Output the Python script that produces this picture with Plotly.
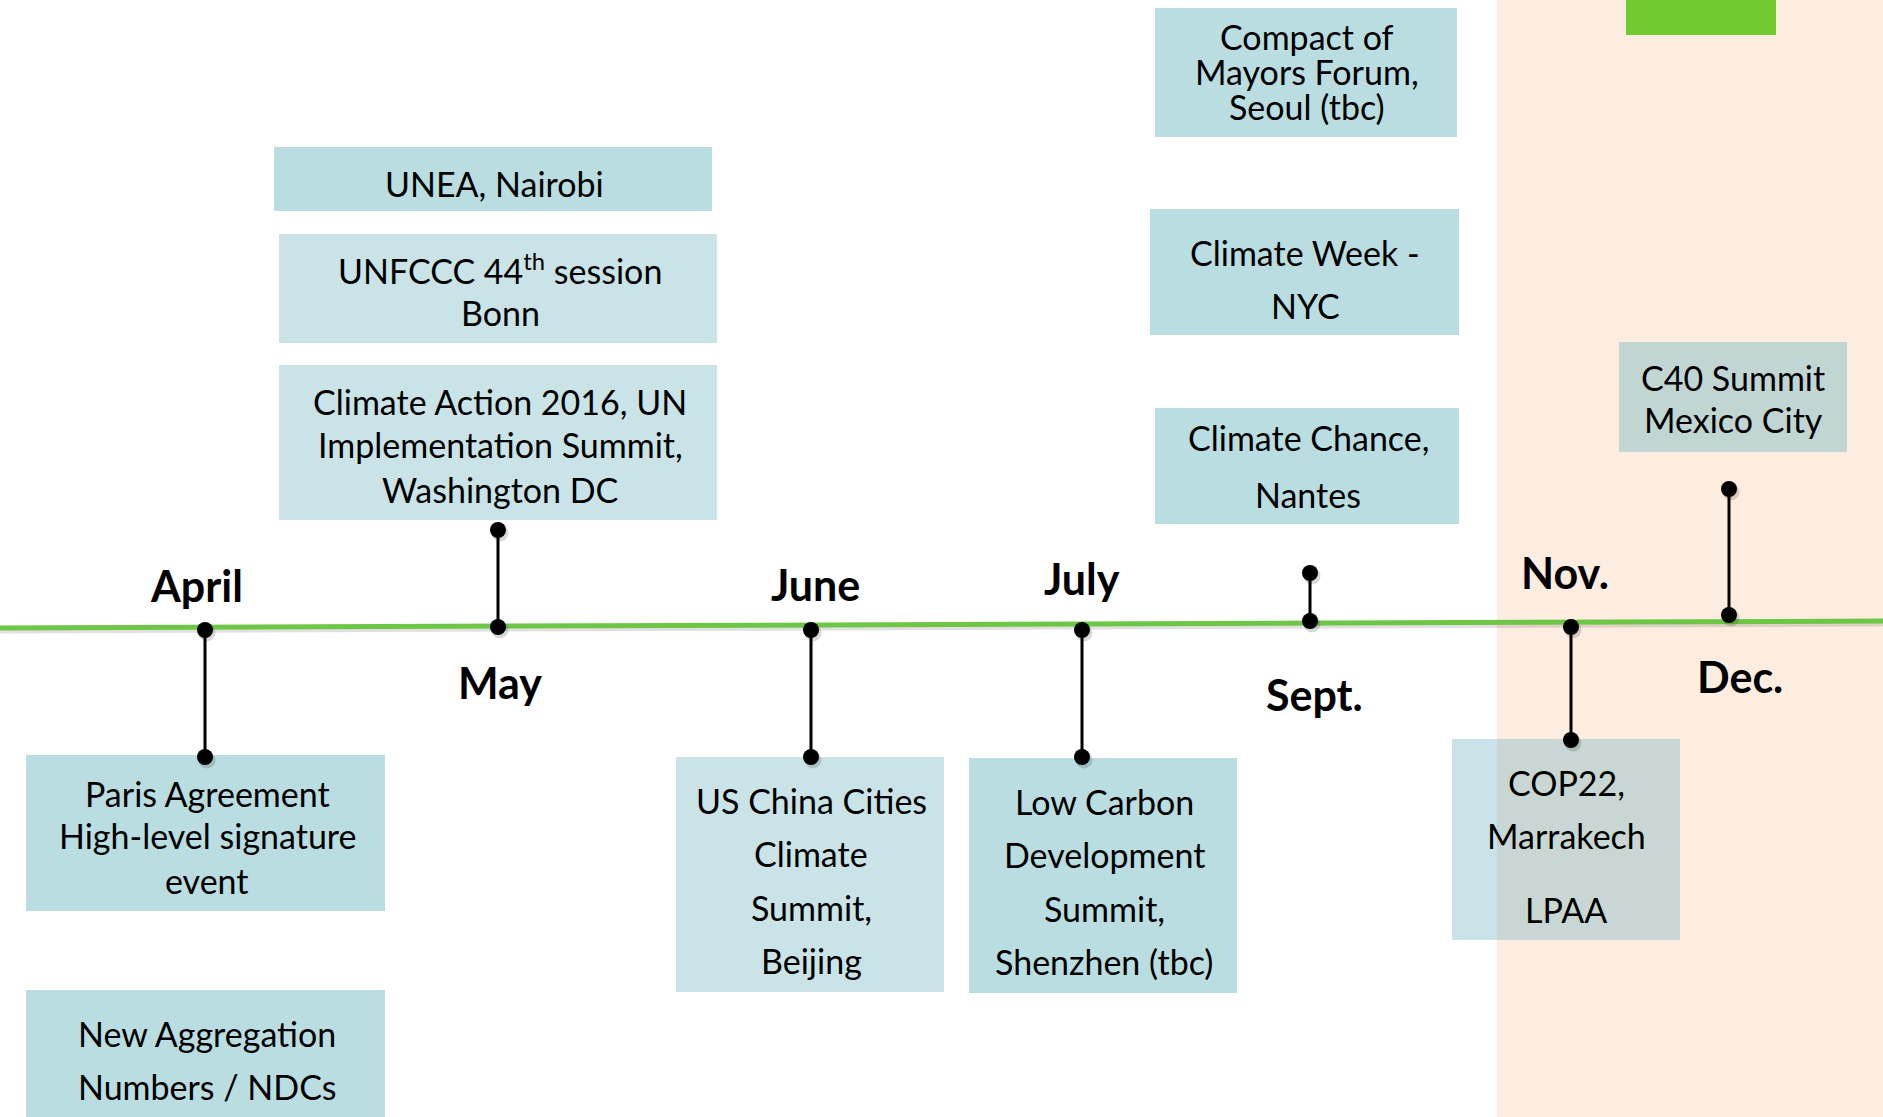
import plotly.graph_objects as go

# ---------------- data ----------------
months = ["April", "May", "June", "July", "Sept.", "Nov.", "Dec."]
month_label_x = [196, 500, 815, 1082, 1314, 1565, 1740]
month_label_y = [585, 682, 584, 578, 694, 572, 676]

# connection point on the timeline and the end of the stem for each month
stem_x = [205, 498, 811, 1082, 1310, 1571, 1729]
stem_axis_y = [630, 627, 630, 630, 621, 627, 615]
stem_end_y = [757, 530, 757, 757, 573, 740, 489]

timeline_x = [0, 1883]
timeline_y = [628, 621]

event_texts = [
    ["UNEA, Nairobi"],
    ["UNFCCC 44<sup>th</sup> session", "Bonn"],
    ["Climate Action 2016, UN", "Implementation Summit,", "Washington DC"],
    ["Compact of", "Mayors Forum,", "Seoul (tbc)"],
    ["Climate Week -", "NYC"],
    ["Climate Chance,", "Nantes"],
    ["C40 Summit", "Mexico City"],
    ["COP22,", "Marrakech", "LPAA"],
    ["Paris Agreement", "High-level signature", "event"],
    ["New Aggregation", "Numbers / NDCs"],
    ["US China Cities", "Climate", "Summit,", "Beijing"],
    ["Low Carbon", "Development", "Summit,", "Shenzhen (tbc)"],
]
box_x0 = [274, 279, 279, 1155, 1150, 1155, 1619, 1452, 26, 26, 676, 969]
box_x1 = [712, 717, 717, 1457, 1459, 1459, 1847, 1680, 385, 385, 944, 1237]
box_y0 = [147, 234, 365, 8, 209, 408, 342, 739, 755, 990, 757, 758]
box_y1 = [211, 343, 520, 137, 335, 524, 452, 940, 911, 1117, 992, 993]
text_x = [494, 500, 500, 1307, 1305, 1308, 1733, 1566, 207, 207, 811, 1104]
text_line_y = [
    [183],
    [269, 312],
    [401, 444, 489],
    [36, 71, 106],
    [252, 305],
    [437, 494],
    [377, 419],
    [782, 835, 909],
    [793, 835, 880],
    [1033, 1086],
    [800, 853, 907, 960],
    [801, 854, 908, 961],
]
box_colors = ["#B9DDE0", "#C9E3E7", "#C9E3E7", "#B9DDE0", "#B9DDE0", "#B9DDE0",
              "#C1D5D3", "rgba(120,182,195,0.40)", "#B9DDE0", "#B9DDE0",
              "#C9E3E7", "#B9DDE0"]

# highlighted period (Nov.-Dec.) and logo block
band_x = [1497, 1883]
logo_x = [1626, 1776]
logo_y = [0, 35]

W, H = 1883, 1117
FONT = "Lato, Calibri, 'Open Sans', sans-serif"

fig = go.Figure()

shapes = []
# peach band
shapes.append(dict(type="rect", xref="x", yref="y", x0=band_x[0], x1=band_x[1],
                   y0=0, y1=H, fillcolor="#FDEDE0", line=dict(width=0), layer="below"))
# logo
shapes.append(dict(type="rect", xref="x", yref="y", x0=logo_x[0], x1=logo_x[1],
                   y0=logo_y[0], y1=logo_y[1], fillcolor="#70CB30", line=dict(width=0),
                   layer="below"))
# event boxes
for x0, x1, y0, y1, c in zip(box_x0, box_x1, box_y0, box_y1, box_colors):
    shapes.append(dict(type="rect", xref="x", yref="y", x0=x0, x1=x1, y0=y0, y1=y1,
                       fillcolor=c, line=dict(width=0), layer="below"))

# timeline shadow + line
fig.add_trace(go.Scatter(x=timeline_x, y=[v + 3 for v in timeline_y], mode="lines",
                         line=dict(color="rgba(0,0,0,0.12)", width=5),
                         hoverinfo="skip", showlegend=False))
fig.add_trace(go.Scatter(x=timeline_x, y=timeline_y, mode="lines",
                         line=dict(color="#6DC646", width=5),
                         hoverinfo="skip", showlegend=False))

# stems
for sx, ay, ey in zip(stem_x, stem_axis_y, stem_end_y):
    fig.add_trace(go.Scatter(x=[sx, sx], y=[ay, ey], mode="lines",
                             line=dict(color="#000000", width=3),
                             hoverinfo="skip", showlegend=False))

# dot shadows
dots_x = stem_x + stem_x
dots_y = stem_axis_y + stem_end_y
fig.add_trace(go.Scatter(x=[v + 2 for v in dots_x], y=[v + 3 for v in dots_y],
                         mode="markers",
                         marker=dict(color="rgba(0,0,0,0.15)", size=17, line=dict(width=0)),
                         hoverinfo="skip", showlegend=False))
fig.add_trace(go.Scatter(x=dots_x, y=dots_y, mode="markers",
                         marker=dict(color="#000000", size=16, line=dict(width=0)),
                         hoverinfo="skip", showlegend=False))

annotations = []
for m, mx, my in zip(months, month_label_x, month_label_y):
    annotations.append(dict(x=mx, y=my, xref="x", yref="y", text="<b>" + m + "</b>",
                            showarrow=False, xanchor="center", yanchor="middle",
                            font=dict(family=FONT, size=43, color="#000000")))
for lines, tx, ys in zip(event_texts, text_x, text_line_y):
    for t, ty in zip(lines, ys):
        annotations.append(dict(x=tx, y=ty, xref="x", yref="y", text=t,
                                showarrow=False, xanchor="center", yanchor="middle",
                                font=dict(family=FONT, size=34, color="#000000")))

fig.update_layout(
    width=W, height=H,
    margin=dict(l=0, r=0, t=0, b=0),
    paper_bgcolor="#FFFFFF", plot_bgcolor="#FFFFFF",
    xaxis=dict(range=[0, W], visible=False, fixedrange=True),
    yaxis=dict(range=[H, 0], visible=False, fixedrange=True),
    shapes=shapes, annotations=annotations, showlegend=False,
)

fig.write_html("out.html", config={"displayModeBar": False},
               post_script="document.body.style.margin='0';document.body.style.overflow='hidden';")
